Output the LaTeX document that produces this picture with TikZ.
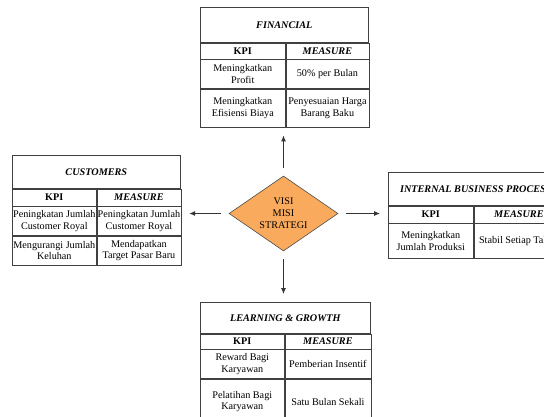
\documentclass[tikz,border=0pt]{standalone}
\usepackage{fontspec}
\setmainfont{Liberation Serif}
\usetikzlibrary{arrows.meta, positioning, shapes.geometric}

\definecolor{vmorange}{RGB}{249,170,92}

\begin{document}
\begin{tikzpicture}[
    x=1pt, y=1pt,
    arrow/.style={-{Latex[length=6pt, width=5pt]}, line width=0.9pt, draw=black!80,
        shorten <=8pt, shorten >=8pt},
    cell/.style={
        rectangle,
        draw=black!75,
        line width=0.6pt,
        inner sep=0.5pt,
        align=center,
        font=\fontsize{10.2}{11.5}\selectfont
    },
    title/.style={cell, font=\fontsize{10.2}{11.5}\selectfont\bfseries\itshape},
    kpi/.style={cell, font=\fontsize{10.2}{11.5}\selectfont\bfseries},
    measure/.style={cell, font=\fontsize{10.2}{11.5}\selectfont\bfseries\itshape},
    center/.style={
        diamond,
        aspect=1.45,
        minimum width=109,
        minimum height=75,
        inner sep=1pt,
        align=center,
        font=\fontsize{10.2}{12}\selectfont,
        draw=black!70,
        line width=0.6pt,
        fill=vmorange
    }
]

\clip (0,0) rectangle (544,416);

% visi misi
\node[center] (vm) at (283.5,202.5) {VISI\\MISI\\STRATEGI};

% financial
\node[title, minimum width=168, minimum height=35, anchor=north west] (fintitle) at (200,409) {FINANCIAL};
\node[kpi, minimum width=85, minimum height=16, below right=0pt and 0pt of fintitle.south west] (fink) {KPI};
\node[measure, minimum width=83, minimum height=16, right=0pt of fink] (finm) {MEASURE};
\node[cell, minimum width=85, minimum height=29, below right=0pt and 0pt of fink.south west] (fin1a) {Meningkatkan\\Profit};
\node[cell, minimum width=83, minimum height=29, right=0pt of fin1a] (fin1b) {50\% per Bulan};
\node[cell, minimum width=85, minimum height=38, below right=0pt and 0pt of fin1a.south west] (fin2a) {Meningkatkan\\Efisiensi Biaya};
\node[cell, minimum width=83, minimum height=38, right=0pt of fin2a] (fin2b) {Penyesuaian Harga\\Barang Baku};

% customers
\node[title, minimum width=168, minimum height=33, anchor=north west] (custitle) at (12,261) {CUSTOMERS};
\node[kpi, minimum width=84, minimum height=17, below right=0pt and 0pt of custitle.south west] (cusk) {KPI};
\node[measure, minimum width=84, minimum height=17, right=0pt of cusk] (cusm) {MEASURE};
\node[cell, minimum width=84, minimum height=29, below right=0pt and 0pt of cusk.south west] (cus1a) {Peningkatan Jumlah\\Customer Royal};
\node[cell, minimum width=84, minimum height=29, right=0pt of cus1a] (cus1b) {Peningkatan Jumlah\\Customer Royal};
\node[cell, minimum width=84, minimum height=29, below right=0pt and 0pt of cus1a.south west] (cus2a) {Mengurangi Jumlah\\Keluhan};
\node[cell, minimum width=84, minimum height=29, right=0pt of cus2a] (cus2b) {Mendapatkan\\Target Pasar Baru};

% internal business process
\node[title, minimum width=175, minimum height=33, anchor=north west] (inttitle) at (388,244) {INTERNAL BUSINESS PROCESS};
\node[kpi, minimum width=85, minimum height=17, below right=0pt and 0pt of inttitle.south west] (intk) {KPI};
\node[measure, minimum width=90, minimum height=17, right=0pt of intk] (intm) {MEASURE};
\node[cell, minimum width=85, minimum height=35, below right=0pt and 0pt of intk.south west] (int1a) {Meningkatkan\\Jumlah Produksi};
\node[cell, minimum width=90, minimum height=35, right=0pt of int1a] (int1b) {Stabil Setiap Tahun};

% learning & growth
\node[title, minimum width=170, minimum height=31, anchor=north west] (lrntitle) at (200,114) {LEARNING \& GROWTH};
\node[kpi, minimum width=84, minimum height=15, below right=0pt and 0pt of lrntitle.south west] (lrnk) {KPI};
\node[measure, minimum width=86, minimum height=15, right=0pt of lrnk] (lrnm) {MEASURE};
\node[cell, minimum width=84, minimum height=29, below right=0pt and 0pt of lrnk.south west] (lrn1a) {Reward Bagi\\Karyawan};
\node[cell, minimum width=86, minimum height=29, right=0pt of lrn1a] (lrn1b) {Pemberian Insentif};
\node[cell, minimum width=84, minimum height=45, below right=0pt and 0pt of lrn1a.south west] (lrn2a) {Pelatihan Bagi\\Karyawan};
\node[cell, minimum width=86, minimum height=45, right=0pt of lrn2a] (lrn2b) {Satu Bulan Sekali};

\draw[arrow] (vm.north) -- (vm.north |- fin2a.south);
\draw[arrow] (vm.south) -- (vm.south |- lrntitle.north);
\draw[arrow] (vm.west) -- (vm.west -| cus1b.east);
\draw[arrow] (vm.east) -- (vm.east -| inttitle.west);

\end{tikzpicture}
\end{document}
